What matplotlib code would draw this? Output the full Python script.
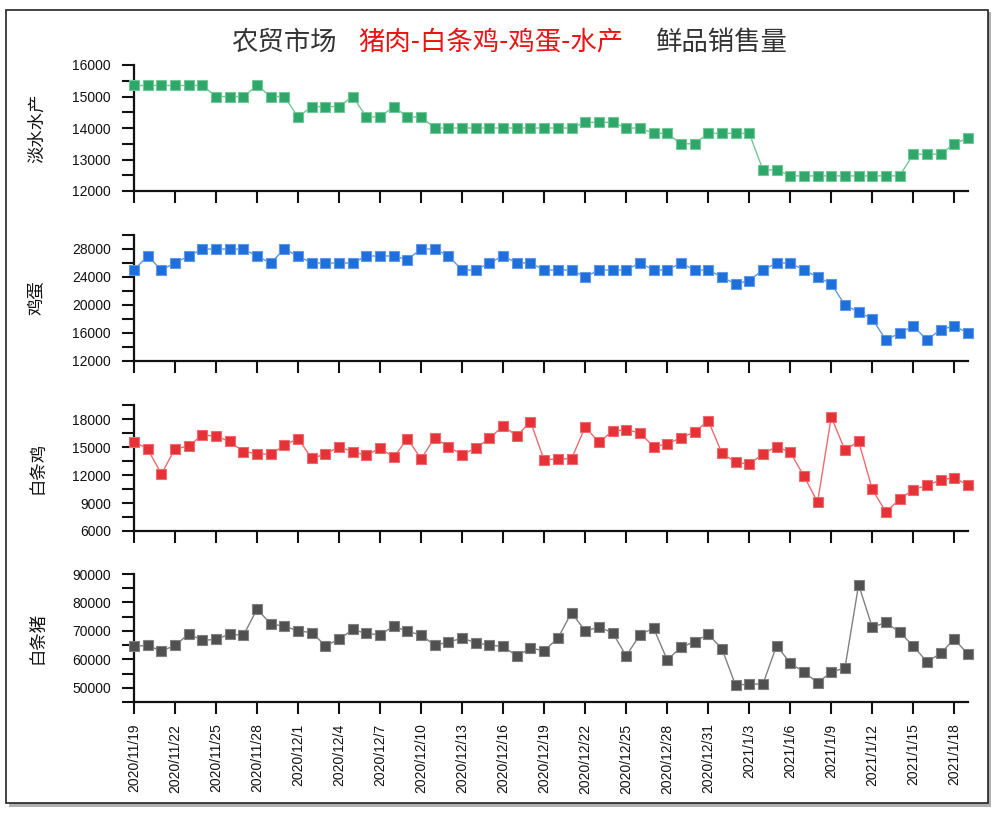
import datetime as dt
import matplotlib
matplotlib.use("Agg")
import matplotlib.pyplot as plt
from matplotlib.patches import Rectangle
import numpy as np

plt.rcParams['font.family'] = ['Liberation Sans', 'Noto Sans CJK SC', 'DejaVu Sans']

start = dt.date(2020, 11, 19)
dates = [start + dt.timedelta(days=i) for i in range(62)]
date_labels = [f"{d.year}/{d.month}/{d.day}" for d in dates]

aquatic = [15350, 15350, 15350, 15350, 15350, 15350, 15000, 15000, 15000, 15350,
           15000, 15000, 14350, 14680, 14680, 14680, 15000, 14350, 14350, 14680,
           14350, 14350, 14000, 14000, 14000, 14000, 14000, 14000, 14000, 14000,
           14000, 14000, 14000, 14180, 14180, 14180, 14000, 14000, 13830, 13830,
           13500, 13500, 13830, 13830, 13830, 13830, 12670, 12670, 12480, 12480,
           12480, 12480, 12480, 12480, 12480, 12480, 12480, 13170, 13170, 13170,
           13500, 13680]

eggs = [25000, 27000, 25000, 26000, 27000, 28000, 28000, 28000, 28000, 27000,
        26000, 28000, 27000, 26000, 26000, 26000, 26000, 27000, 27000, 27000,
        26500, 28000, 28000, 27000, 25000, 25000, 26000, 27000, 26000, 26000,
        25000, 25000, 25000, 24000, 25000, 25000, 25000, 26000, 25000, 25000,
        26000, 25000, 25000, 24000, 23000, 23500, 25000, 26000, 26000, 25000,
        24000, 23000, 20000, 19000, 18000, 15000, 16000, 17000, 15000, 16500,
        17000, 16000]

chicken = [15580, 14800, 12100, 14800, 15100, 16300, 16150, 15600, 14500, 14300,
           14200, 15200, 15900, 13800, 14230, 15050, 14480, 14120, 14870, 13900,
           15900, 13730, 16000, 15010, 14190, 14870, 15940, 17250, 16190, 17720,
           13590, 13740, 13730, 17150, 15510, 16690, 16860, 16510, 15050, 15300,
           16010, 16580, 17830, 14330, 13370, 13160, 14260, 15050, 14440, 11880,
           9100, 18220, 14660, 15620, 10450, 8030, 9420, 10420, 10910, 11450,
           11730, 10880]

pork = [64600, 64900, 62900, 64900, 68900, 66700, 67000, 68900, 68400, 77700,
        72400, 71700, 70000, 69400, 64800, 67000, 70500, 69100, 68600, 71700,
        69800, 68600, 64900, 66100, 67400, 65900, 64900, 64600, 61100, 63900,
        63050, 67400, 76400, 70000, 71250, 69400, 61200, 68600, 71000, 59800,
        64200, 66200, 68800, 63750, 50900, 51300, 51300, 64800, 58700, 55500,
        51800, 55500, 57000, 86250, 71250, 73000, 69500, 64700, 59100, 62100,
        67150, 61760]

panels = [
    ("淡水水产", aquatic, "#2ea86a", "#72c795", (12000, 16000), 1000, 500),
    ("鸡蛋", eggs, "#1e6edc", "#5e98e6", (12000, 30000), 4000, 2000),
    ("白条鸡", chicken, "#e63237", "#ee6a6e", (6000, 19500), 3000, 1500),
    ("白条猪", pork, "#505050", "#808080", (45000, 90000), 10000, 5000),
]

W, H = 1000, 814
fig = plt.figure(figsize=(W / 100, H / 100), dpi=100)
fig.patch.set_facecolor('white')

# outer frame with shadow
fig.patches.append(Rectangle((9 / W, 1 - 807 / H), 982 / W, 795 / H, transform=fig.transFigure,
                             facecolor='#b0b0b0', edgecolor='none', zorder=-3))
fig.patches.append(Rectangle((6 / W, 1 - 803 / H), 982 / W, 793 / H, transform=fig.transFigure,
                             facecolor='white', edgecolor='#222222', linewidth=1.2, zorder=-2))

x = np.arange(len(dates))
left, right = 134, 968
boxes = [(65, 191), (235, 361), (405, 531), (574, 702)]

for i, ((label, vals, mc, lc, ylim, major, minor), (top, bot)) in enumerate(zip(panels, boxes)):
    ax = fig.add_axes([left / W, 1 - bot / H, (right - left) / W, (bot - top) / H])
    ax.plot(x, vals, color=lc, linewidth=1.0, zorder=2, clip_on=False)
    ax.plot(x, vals, linestyle='none', marker='s', markersize=6.6, markerfacecolor=mc,
            markeredgecolor=lc, markeredgewidth=0.8, zorder=3, clip_on=False)
    ax.set_xlim(0, 61)
    ax.set_ylim(*ylim)
    for s in ['top', 'right']:
        ax.spines[s].set_visible(False)
    for s in ['left', 'bottom']:
        ax.spines[s].set_linewidth(1.6)
        ax.spines[s].set_color('#111111')
    ax.set_yticks(np.arange(ylim[0], ylim[1] + 1, minor))
    ticklabels = [str(int(v)) if (v % major == 0) else '' for v in np.arange(ylim[0], ylim[1] + 1, minor)]
    ax.set_yticklabels(ticklabels)
    ax.set_xticks(x[::3])
    if i == 3:
        ax.set_xticklabels([date_labels[j] for j in range(0, 62, 3)], rotation=90, fontsize=10)
    else:
        ax.set_xticklabels([])
    ax.tick_params(axis='both', direction='out', length=8.5, width=1.5, color='#111111',
                   labelsize=10, labelcolor='#111111')
    ax.tick_params(axis='y', pad=8)
    ax.tick_params(axis='x', pad=7)
    ax.set_facecolor('none')
    fig.text(37 / W, 1 - (top + bot) / 2 / H, label, rotation=90, ha='center', va='center',
             fontsize=12.5, family=['Noto Sans CJK SC', 'DejaVu Sans'], color='#111111')

tfam = ['Noto Sans CJK SC', 'DejaVu Sans']
ty = 1 - 42 / H
fig.text(231 / W, ty, "农贸市场", fontsize=19, family=tfam, color='#333333', ha='left', va='center')
fig.text(358 / W, ty, "猪肉-白条鸡-鸡蛋-水产", fontsize=19, family=tfam, color='#ee1111', ha='left', va='center')
fig.text(655 / W, ty, "鲜品销售量", fontsize=19, family=tfam, color='#333333', ha='left', va='center')

fig.savefig("out.png", dpi=100)
